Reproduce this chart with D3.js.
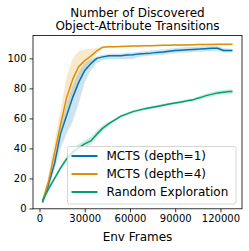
<!DOCTYPE html>
<html>
<head>
<meta charset="utf-8">
<script src="https://cdn.jsdelivr.net/npm/d3@7"></script>
<style>
  body { margin: 0; background: #fff; }
  svg { font-family: "DejaVu Sans", sans-serif; }
</style>
</head>
<body>
<svg id="chart" width="249" height="251"></svg>
<script>
// Data
const frames = [2000, 6000, 10000, 14000, 18000, 22000, 26000, 30000, 34000, 38000, 42000, 46000, 50000, 54000, 58000, 62000, 66000, 70000, 74000, 78000, 82000, 86000, 90000, 94000, 98000, 102000, 106000, 110000, 114000, 118000, 122000, 126000, 128000];

const mcts1Mean = [4, 16, 30, 50, 62, 74, 84, 92, 96.5, 100, 101, 101.8, 101.8, 101.8, 102.3, 102.5, 103, 103.2, 103.5, 104, 104.3, 104.8, 105.2, 105.5, 105.8, 106, 106.2, 106.5, 106.7, 106.8, 105.3, 105.2, 105.2];
const mcts1Low = [3, 13, 26, 40, 50, 58, 70, 84, 92, 97, 99, 99.5, 99.5, 99.5, 99.5, 99.6, 101, 101.5, 101.8, 102.2, 102.5, 103, 103.5, 103.8, 104, 104.2, 104.4, 104.6, 104.8, 105, 104, 104, 104];
const mcts1High = [5, 18, 33, 56, 70, 82, 91, 97, 99.5, 101.5, 102.5, 103, 103.2, 103.3, 103.8, 104, 104.5, 104.8, 105.2, 105.6, 106, 106.5, 107, 107.3, 107.6, 107.8, 108, 108.2, 108.3, 108.4, 106.8, 106.5, 106.5];

const mcts4Mean = [5, 18, 37, 56, 74, 86, 94.5, 98.5, 101.5, 105, 107.5, 107.7, 107.8, 108, 108.1, 108.2, 108.3, 108.4, 108.5, 108.6, 108.7, 108.8, 108.9, 109, 109, 109.1, 109.2, 109.3, 109.3, 109.4, 109.5, 109.5, 109.5];
const mcts4Low = [4, 15, 32, 48, 64, 76, 86, 93, 98, 103, 107, 107.2, 107.3, 107.5, 107.6, 107.7, 107.8, 107.9, 108, 108.1, 108.2, 108.3, 108.4, 108.5, 108.5, 108.6, 108.7, 108.8, 108.8, 108.9, 109, 109, 109];
const mcts4High = [6, 22, 45, 66, 88, 100, 105, 106, 106.5, 107, 108, 108.2, 108.3, 108.5, 108.6, 108.7, 108.8, 108.9, 109, 109.1, 109.2, 109.3, 109.4, 109.5, 109.5, 109.6, 109.7, 109.8, 109.8, 109.9, 110, 110, 110];

const randomMean = [5, 13, 20, 27, 33, 37.5, 40.5, 43, 45, 49.5, 53.5, 56.5, 59, 61.5, 63, 64.5, 65.5, 66.5, 67.2, 68, 68.8, 69.6, 70.3, 71, 71.7, 72.5, 73.7, 75, 76, 77, 77.5, 78, 78];
const randomLow = [4, 11.5, 18.5, 25.5, 31, 35, 38, 40.5, 42.5, 47, 51.5, 55, 58, 60.5, 62, 63.5, 64.5, 65.5, 66.2, 67, 67.8, 68.6, 69.3, 70, 70.7, 71.5, 72.5, 73.5, 74.5, 75.5, 76, 76.3, 76.3];
const randomHigh = [6, 14.5, 21.5, 28.5, 35, 40, 43, 45.5, 47.5, 52, 55.5, 58, 60, 62.5, 64, 65.5, 66.5, 67.5, 68.2, 69, 69.8, 70.6, 71.3, 72, 72.7, 73.5, 75, 76.5, 77.5, 78.5, 79, 79.5, 79.5];

const seriesNames = ["MCTS (depth=1)", "MCTS (depth=4)", "Random Exploration"];
const seriesColors = ["#0173b2", "#de8f05", "#029e73"];
const xTicks = [0, 30000, 60000, 90000, 120000];
const yTicks = [0, 20, 40, 60, 80, 100];
const titleLines = ["Number of Discovered", "Object-Attribute Transitions"];

const series = [
  { mean: mcts1Mean, low: mcts1Low, high: mcts1High },
  { mean: mcts4Mean, low: mcts4Low, high: mcts4High },
  { mean: randomMean, low: randomLow, high: randomHigh }
];

// Plot box
const plotLeft = 33, plotRight = 242, plotTop = 35.5, plotBottom = 208.8;

const svg = d3.select("#chart");

const xScale = d3.scaleLinear().domain([-4300, 134300]).range([plotLeft, plotRight]);
const yScale = d3.scaleLinear().domain([-0.25, 115.25]).range([plotBottom, plotTop]);

// bands and lines
series.forEach((s, k) => {
  const pts = frames.map((f, i) => ({ f, m: s.mean[i], lo: s.low[i], hi: s.high[i] }));
  svg.append("path")
    .datum(pts)
    .attr("fill", seriesColors[k])
    .attr("fill-opacity", 0.2)
    .attr("d", d3.area().x(d => xScale(d.f)).y0(d => yScale(d.lo)).y1(d => yScale(d.hi)));
  svg.append("path")
    .datum(pts)
    .attr("fill", "none")
    .attr("stroke", seriesColors[k])
    .attr("stroke-width", 1.5)
    .attr("stroke-linejoin", "round")
    .attr("d", d3.line().x(d => xScale(d.f)).y(d => yScale(d.m)));
});

// axes
const xAxis = svg.append("g")
  .attr("transform", `translate(0,${plotBottom})`)
  .call(d3.axisBottom(xScale).tickValues(xTicks).tickFormat(d3.format("d")).tickSize(3.5).tickPadding(3));
const yAxis = svg.append("g")
  .attr("transform", `translate(${plotLeft},0)`)
  .call(d3.axisLeft(yScale).tickValues(yTicks).tickSize(3.5).tickPadding(3));
[xAxis, yAxis].forEach(g => {
  g.select(".domain").remove();
  g.selectAll("line").attr("stroke", "#000").attr("stroke-width", 0.8);
  g.selectAll("text").attr("fill", "#000").style("font-size", "10px").style("font-family", "DejaVu Sans");
});

// frame
svg.append("rect")
  .attr("x", plotLeft).attr("y", plotTop)
  .attr("width", plotRight - plotLeft).attr("height", plotBottom - plotTop)
  .attr("fill", "none").attr("stroke", "#000").attr("stroke-width", 0.8);

// title
svg.selectAll(".title")
  .data(titleLines)
  .enter()
  .append("text")
  .attr("class", "title")
  .attr("x", (plotLeft + plotRight) / 2)
  .attr("y", (d, i) => 16.5 + i * 13.5)
  .attr("text-anchor", "middle")
  .style("font-size", "12px")
  .text(d => d);

// x label
svg.append("text")
  .attr("x", (plotLeft + plotRight) / 2)
  .attr("y", 241)
  .attr("text-anchor", "middle")
  .style("font-size", "12px")
  .text("Env Frames");

// legend
const legend = svg.append("g");
legend.append("rect")
  .attr("x", 67.5).attr("y", 146.5)
  .attr("width", 168.5).attr("height", 57.5)
  .attr("rx", 2)
  .attr("fill", "#fff").attr("fill-opacity", 0.8)
  .attr("stroke", "#cccccc").attr("stroke-width", 0.8);

const rows = legend.selectAll(".legend-item")
  .data(seriesNames)
  .enter()
  .append("g")
  .attr("class", "legend-item")
  .attr("transform", (d, i) => `translate(0,${156 + i * 18})`);
rows.append("line")
  .attr("x1", 71.5).attr("x2", 97.5)
  .attr("stroke", (d, i) => seriesColors[i])
  .attr("stroke-width", 2);
rows.append("text")
  .attr("x", 106.5)
  .attr("dy", "0.36em")
  .style("font-size", "12px")
  .text(d => d);
</script>
</body>
</html>
